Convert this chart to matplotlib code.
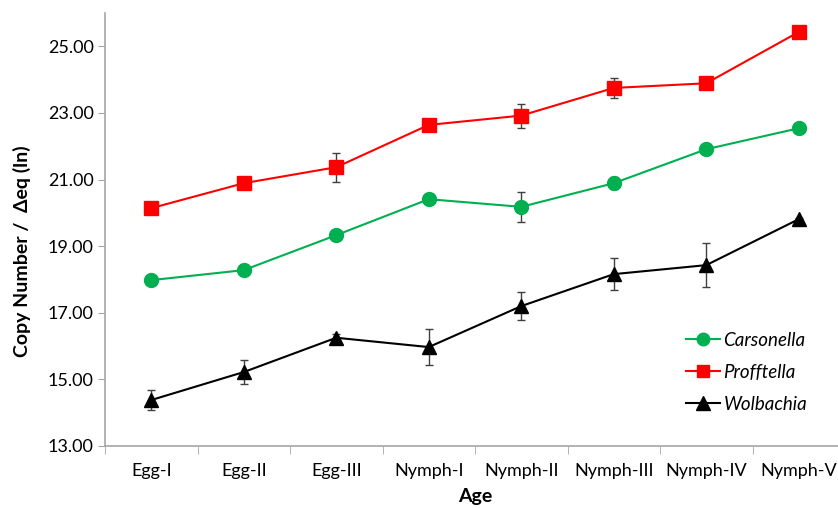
import matplotlib.pyplot as plt
from matplotlib.ticker import FixedLocator
from matplotlib.lines import Line2D

plt.rcParams['font.family'] = ['Lato', 'DejaVu Sans']

ages = ["Egg-I", "Egg-II", "Egg-III", "Nymph-I", "Nymph-II", "Nymph-III", "Nymph-IV", "Nymph-V"]

carsonella = [17.98, 18.28, 19.33, 20.41, 20.18, 20.89, 21.91, 22.54]
carsonella_err = [0.05, 0.05, 0.05, 0.05, 0.44, 0.18, 0.05, 0.05]

profftella = [20.14, 20.89, 21.37, 22.64, 22.92, 23.75, 23.89, 25.43]
profftella_err = [0.05, 0.05, 0.43, 0.05, 0.36, 0.30, 0.05, 0.05]

wolbachia = [14.38, 15.22, 16.25, 15.97, 17.20, 18.16, 18.43, 19.81]
wolbachia_err = [0.30, 0.37, 0.10, 0.54, 0.41, 0.48, 0.65, 0.05]

fig = plt.figure(figsize=(8.38, 5.08), dpi=100)
ax = fig.add_axes([105/838, 62/508, 740/838, 433/508])

x = list(range(len(ages)))

series = [
    (carsonella, carsonella_err, "#00b050", "o", 10, "Carsonella"),
    (profftella, profftella_err, "#ff0000", "s", 10, "Profftella"),
    (wolbachia, wolbachia_err, "black", "^", 10.5, "Wolbachia"),
]
handles = []
for vals, err, col, mk, ms, name in series:
    ax.errorbar(x, vals, yerr=err, color=col, marker=mk, markersize=ms,
                ecolor="#404040", elinewidth=1, capsize=3, lw=1.5, zorder=3)
    handles.append(Line2D([], [], color=col, marker=mk, markersize=ms - 1, lw=1.5, label=name))

ax.set_xlim(-0.5, 7.5)
ax.set_ylim(13, 26)
ax.set_yticks([13, 15, 17, 19, 21, 23, 25])
ax.set_yticklabels(["%.2f" % v for v in [13, 15, 17, 19, 21, 23, 25]], fontsize=13)
ax.set_xticks(x)
ax.set_xticklabels(ages, fontsize=13)
ax.xaxis.set_minor_locator(FixedLocator([i + 0.5 for i in range(-1, 8)]))
ax.tick_params(axis="x", which="major", length=0, pad=12)
ax.tick_params(axis="x", which="minor", length=6, color="#a6a6a6", direction="out")
ax.tick_params(axis="y", length=5, color="#a6a6a6", pad=3)

for s in ["top", "right"]:
    ax.spines[s].set_visible(False)
for s in ["left", "bottom"]:
    ax.spines[s].set_color("#a6a6a6")
    ax.spines[s].set_linewidth(1.2)

ax.set_ylabel("Copy Number /  Δeq (ln)", fontsize=14, fontweight="bold")
ax.yaxis.set_label_coords(-0.1, 0.45)
ax.set_xlabel("Age", fontsize=14, fontweight="bold", labelpad=7)

ax.legend(handles=handles, loc="lower left", bbox_to_anchor=(0.775, 0.06), frameon=False,
          prop={"style": "italic", "size": 13.5}, handlelength=1.8, handletextpad=0.2,
          labelspacing=0.8, borderaxespad=0)

fig.savefig("out.png", dpi=100)
